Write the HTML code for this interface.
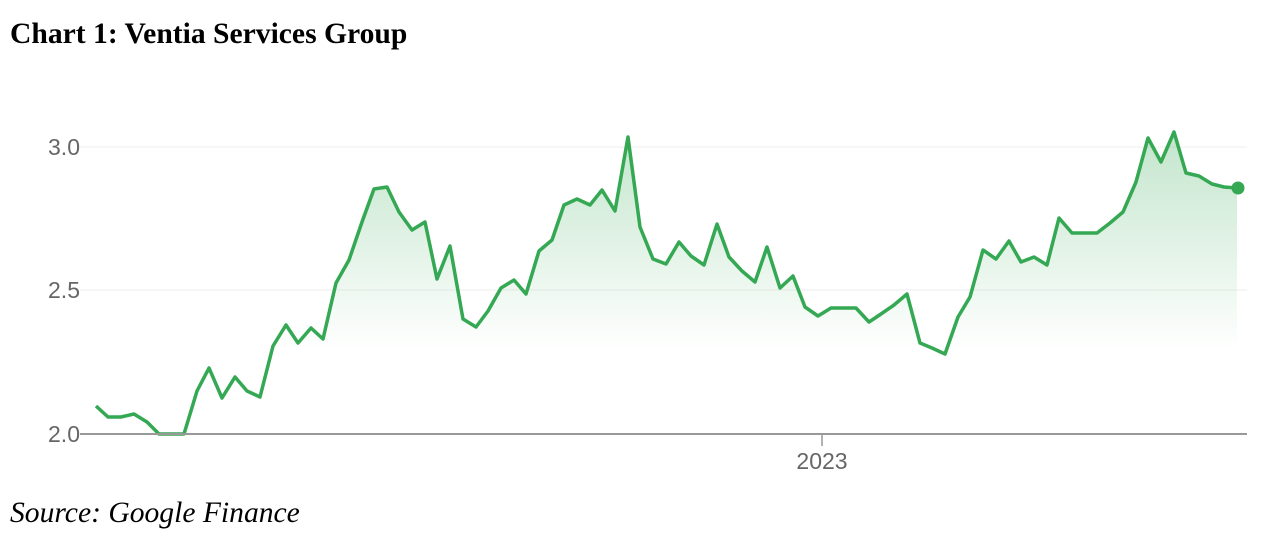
<!DOCTYPE html>
<html><head><meta charset="utf-8"><style>
body{margin:0;width:1280px;height:538px;background:#fff;overflow:hidden;position:relative;font-family:"Liberation Serif",serif}
.t{position:absolute;left:10px;top:16px;font-size:29.6px;font-weight:bold;color:#000;line-height:36px}
.s{position:absolute;left:10px;top:495px;font-size:29.6px;font-style:italic;color:#000;line-height:36px}
svg{position:absolute;left:0;top:0}
</style></head><body>
<div class="t">Chart 1: Ventia Services Group</div>
<svg width="1280" height="538">
<defs><linearGradient id="g" x1="0" y1="130" x2="0" y2="350" gradientUnits="userSpaceOnUse">
<stop offset="0" stop-color="#34a853" stop-opacity="0.3"/><stop offset="1" stop-color="#34a853" stop-opacity="0"/></linearGradient></defs>
<line x1="80" y1="147" x2="1247" y2="147" stroke="#eee" stroke-width="1"/>
<line x1="80" y1="290" x2="1247" y2="290" stroke="#eee" stroke-width="1"/>
<g font-family="Liberation Sans,sans-serif" font-size="23" fill="#666" text-anchor="end">
<text x="80" y="155">3.0</text><text x="80" y="298">2.5</text><text x="80" y="442">2.0</text></g>
<polygon fill="url(#g)" points="96,434 96,406 108,417 121,417 134,414 147,422 159,434 172,434 184,434 197,391 209,368 222,398 235,377 247,391 260,397 273,346 286,325 298,343 311,328 323,339 336,283 349,260 362,222 374,189 387,187 399,212 412,230 425,222 437,279 450,246 463,319 476,327 488,311 501,288 514,280 526,294 539,251 552,240 564,205 577,199 590,205 602,190 615,211 628,137 640,227 653,259 666,264 679,242 691,256 704,265 717,224 729,257 742,271 755,282 767,247 780,288 793,276 805,307 818,316 831,308 843,308 856,308 869,322 881,314 894,305 907,294 920,343 932,348 945,354 958,317 970,297 983,250 996,259 1009,241 1021,262 1034,257 1047,265 1059,218 1072,233 1085,233 1097,233 1110,223 1123,212 1136,182 1148,138 1161,162 1174,132 1186,173 1199,176 1212,184 1224,187 1237,188 1237,434"/>
<polyline fill="none" stroke="#34a853" stroke-width="3.5" stroke-linejoin="round" points="96,406 108,417 121,417 134,414 147,422 159,434 172,434 184,434 197,391 209,368 222,398 235,377 247,391 260,397 273,346 286,325 298,343 311,328 323,339 336,283 349,260 362,222 374,189 387,187 399,212 412,230 425,222 437,279 450,246 463,319 476,327 488,311 501,288 514,280 526,294 539,251 552,240 564,205 577,199 590,205 602,190 615,211 628,137 640,227 653,259 666,264 679,242 691,256 704,265 717,224 729,257 742,271 755,282 767,247 780,288 793,276 805,307 818,316 831,308 843,308 856,308 869,322 881,314 894,305 907,294 920,343 932,348 945,354 958,317 970,297 983,250 996,259 1009,241 1021,262 1034,257 1047,265 1059,218 1072,233 1085,233 1097,233 1110,223 1123,212 1136,182 1148,138 1161,162 1174,132 1186,173 1199,176 1212,184 1224,187 1237,188"/>
<circle cx="1238" cy="188" r="6.5" fill="#34a853"/>
<line x1="80" y1="434" x2="1247" y2="434" stroke="#999" stroke-width="2"/>
<line x1="822" y1="434" x2="822" y2="446" stroke="#999" stroke-width="1.5"/>
<text x="822" y="469" font-family="Liberation Sans,sans-serif" font-size="23" fill="#666" text-anchor="middle">2023</text>
</svg>
<div class="s">Source: Google Finance</div>
</body></html>
